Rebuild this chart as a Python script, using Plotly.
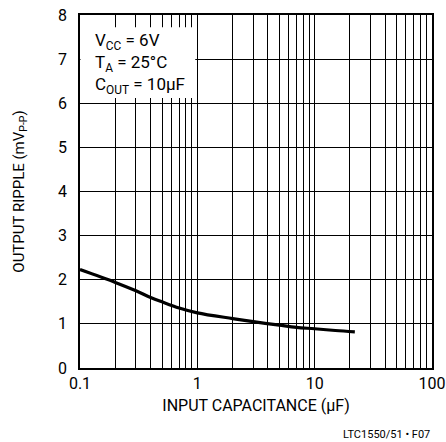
import math
import plotly.graph_objects as go

cap_uF = [0.1, 0.2, 0.3, 0.4, 0.5, 0.7, 1.0, 2.0, 3.0, 5.0, 7.0, 10.0, 15.0, 22.0]
ripple_mV = [2.23, 1.94, 1.75, 1.60, 1.50, 1.36, 1.25, 1.12, 1.05, 0.97, 0.92, 0.89, 0.85, 0.82]

x_grid = [m * 10 ** e for e in (-1, 0, 1) for m in range(1, 10)] + [100]
x_labels = {0.1: "0.1", 1: "1", 10: "10", 100: "100"}
x_text = [x_labels.get(round(v, 6), "") for v in x_grid]
y_ticks = [0, 1, 2, 3, 4, 5, 6, 7, 8]

FONT = "Roboto, Liberation Sans, Arial"

fig = go.Figure()
fig.add_trace(go.Scatter(x=cap_uF, y=ripple_mV, mode="lines",
                         line=dict(color="black", width=3.2, shape="spline"),
                         showlegend=False, hoverinfo="skip"))

fig.update_layout(
    width=446, height=442,
    margin=dict(l=80, r=14, t=15, b=74, autoexpand=False),
    paper_bgcolor="white", plot_bgcolor="white",
    font=dict(family=FONT, color="black", size=16),
    xaxis=dict(type="log", range=[-1, 2], tickvals=x_grid, ticktext=x_text,
               showgrid=True, gridcolor="black", gridwidth=1,
               showline=True, linecolor="black", linewidth=1.5, mirror=True,
               ticks="", tickfont=dict(size=16, family=FONT), zeroline=False,
               automargin=False,
               title=dict(text="INPUT CAPACITANCE (µF)", font=dict(size=16, family=FONT), standoff=8)),
    yaxis=dict(range=[0, 8], tickvals=y_ticks,
               showgrid=True, gridcolor="black", gridwidth=1,
               showline=True, linecolor="black", linewidth=1.5, mirror=True,
               ticks="", tickfont=dict(size=16, family=FONT), zeroline=False,
               ticklabelstandoff=8, automargin=False,
               title=dict(text="OUTPUT RIPPLE (mV<sub>P-P</sub>)", font=dict(size=15, family=FONT), standoff=30)),
)

fig.add_shape(type="rect", xref="x", yref="y", x0=0.101, x1=0.96, y0=6.12, y1=7.72,
              fillcolor="white", line=dict(width=0), layer="above")
fig.add_annotation(xref="x", yref="y", x=math.log10(0.13), y=7.7, xanchor="left", yanchor="top",
                   align="left", showarrow=False,
                   text="V<sub>CC</sub> = 6V<br>T<sub>A</sub> = 25°C<br>C<sub>OUT</sub> = 10µF",
                   font=dict(size=17, family=FONT))
fig.add_annotation(xref="paper", yref="paper", x=1.0, y=-0.165, xanchor="right", yanchor="top",
                   showarrow=False, text="LTC1550/51 • F07", font=dict(size=11, family=FONT))

fig.write_html("out.html", config={"displayModeBar": False},
               post_script="document.body.style.margin='0';document.body.style.padding='0';")
